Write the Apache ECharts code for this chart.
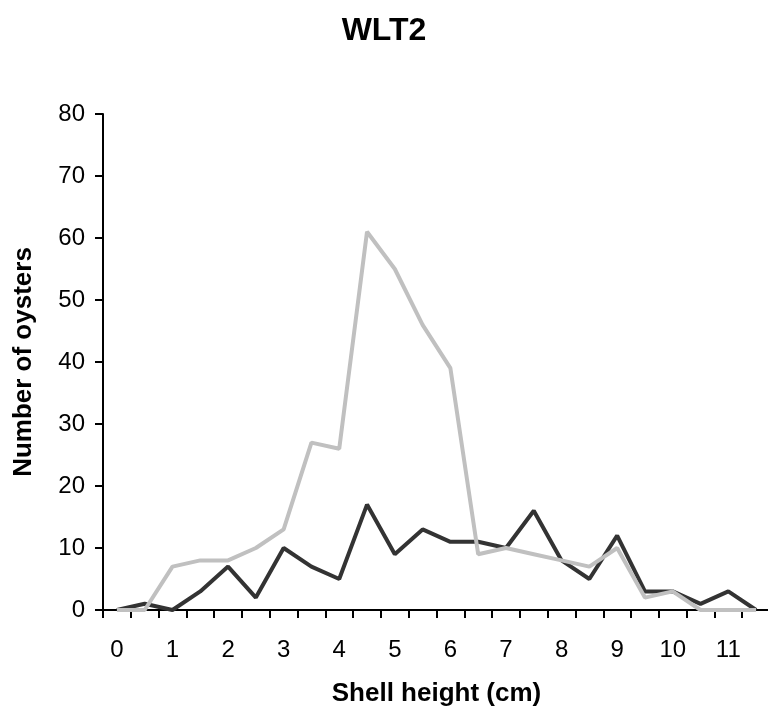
<!DOCTYPE html>
<html>
<head>
<meta charset="utf-8">
<script src="https://cdn.jsdelivr.net/npm/echarts@6/dist/echarts.min.js"></script>
<style>html,body{margin:0;padding:0;background:#fff}#c{width:768px;height:714px}</style>
</head>
<body>
<div id="c"></div>
<script>
var categories = ['0','0.5','1','1.5','2','2.5','3','3.5','4','4.5','5','5.5','6','6.5','7','7.5','8','8.5','9','9.5','10','10.5','11','11.5'];
var darkSeries = [0,1,0,3,7,2,10,7,5,17,9,13,11,11,10,16,8,5,12,3,3,1,3,0];
var graySeries = [0,0,7,8,8,10,13,27,26,61,55,46,39,9,10,9,8,7,10,2,3,0,0,0];
var yTicks = [0,10,20,30,40,50,60,70,80];

var chart = echarts.init(document.getElementById('c'), null, {renderer:'canvas'});
var font = 'Liberation Sans, Arial, sans-serif';
chart.setOption({
  animation:false,
  backgroundColor:'#fff',
  title:{text:'WLT2', left:'center', top:10, textStyle:{fontFamily:font, fontWeight:'bold', fontSize:32, color:'#000'}},
  grid:{left:103, right:-2, top:114, bottom:104, containLabel:false, outerBoundsMode:'none'},
  xAxis:{
    type:'category', data:categories, boundaryGap:true,
    name:'Shell height (cm)', nameLocation:'middle', nameGap:71,
    nameTextStyle:{fontFamily:font, fontWeight:'bold', fontSize:26, color:'#000'},
    axisLine:{lineStyle:{color:'#000', width:2}},
    axisTick:{show:true, interval:0, length:8, lineStyle:{color:'#000', width:2}},
    axisLabel:{interval:1, margin:28, fontFamily:font, fontSize:24, color:'#000'},
    splitLine:{show:false}
  },
  yAxis:{
    type:'value', min:yTicks[0], max:yTicks[yTicks.length-1], interval:10,
    name:'Number of oysters', nameLocation:'middle', nameGap:66, nameRotate:90,
    nameTextStyle:{fontFamily:font, fontWeight:'bold', fontSize:26, color:'#000'},
    axisLine:{show:true, lineStyle:{color:'#000', width:2}},
    axisTick:{show:true, length:8, lineStyle:{color:'#000', width:2}},
    axisLabel:{margin:18, fontFamily:font, fontSize:24, color:'#000'},
    splitLine:{show:false}
  },
  series:[
    {type:'line', data:darkSeries, symbol:'none', smooth:false, lineStyle:{color:'#333333', width:4}, z:2},
    {type:'line', data:graySeries, symbol:'none', smooth:false, lineStyle:{color:'#c0c0c0', width:4}, z:3}
  ]
});
</script>
</body>
</html>
